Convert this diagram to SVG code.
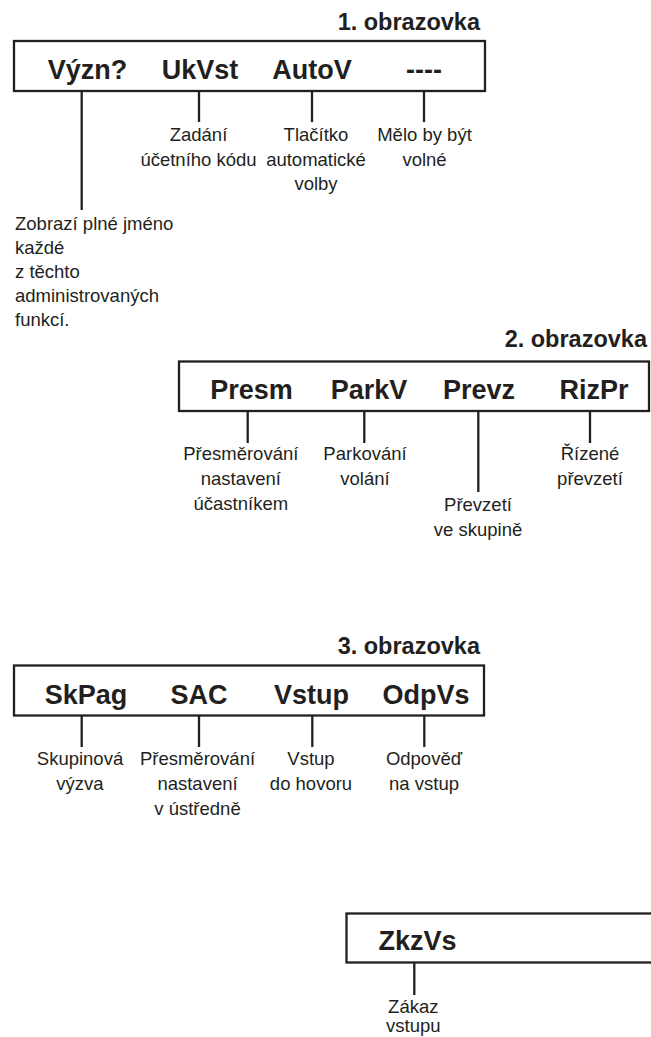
<svg xmlns="http://www.w3.org/2000/svg" width="651" height="1037" viewBox="0 0 651 1037">
<style>
.bg{fill:#fff}
.box{fill:#fff;stroke:#231f20;stroke-width:2.3}
.ln{stroke:#231f20;stroke-width:2.3;fill:none}
.ttl{font-family:"Liberation Sans",Arial,sans-serif;font-weight:bold;font-size:23.5px;fill:#231f20;text-anchor:end}
.key{font-family:"Liberation Sans",Arial,sans-serif;font-weight:bold;font-size:27px;fill:#231f20;text-anchor:middle}
.d{font-family:"Liberation Sans",Arial,sans-serif;font-size:18.5px;fill:#231f20;text-anchor:middle}
.dl{font-family:"Liberation Sans",Arial,sans-serif;font-size:18.5px;fill:#231f20}
</style>
<rect class="bg" x="0" y="0" width="651" height="1037"/>
<g id="screen1">
<text class="ttl" x="480" y="30">1. obrazovka</text>
<rect class="box" x="14" y="41" width="471" height="50"/>
<text class="key" x="87.5" y="78.5">Význ?</text>
<text class="key" x="200" y="78.5">UkVst</text>
<text class="key" x="312" y="78.5">AutoV</text>
<text class="key" x="424" y="78.5">----</text>
</g>
<g id="screen2">
<text class="ttl" x="647" y="347">2. obrazovka</text>
<rect class="box" x="179" y="361.5" width="470" height="49.5"/>
<text class="key" x="251.5" y="398.5">Presm</text>
<text class="key" x="369" y="398.5">ParkV</text>
<text class="key" x="479" y="398.5">Prevz</text>
<text class="key" x="594" y="398.5">RizPr</text>
</g>
<g id="screen3">
<text class="ttl" x="480" y="654">3. obrazovka</text>
<rect class="box" x="14" y="665.5" width="470" height="50"/>
<text class="key" x="86" y="703.5">SkPag</text>
<text class="key" x="199" y="703.5">SAC</text>
<text class="key" x="311.5" y="703.5">Vstup</text>
<text class="key" x="426" y="703.5">OdpVs</text>
</g>
<g id="screen4">
<rect class="box" x="346.5" y="913.5" width="330" height="49"/>
<text class="key" x="417.5" y="950">ZkzVs</text>
</g>
<g id="connectors">
<line class="ln" x1="81.7" y1="91" x2="81.7" y2="210"/>
<line class="ln" x1="199" y1="91" x2="199" y2="122"/>
<line class="ln" x1="312" y1="91" x2="312" y2="122"/>
<line class="ln" x1="424" y1="91" x2="424" y2="122"/>
<line class="ln" x1="247.7" y1="411" x2="247.7" y2="443"/>
<line class="ln" x1="364.3" y1="411" x2="364.3" y2="443"/>
<line class="ln" x1="478.3" y1="411" x2="478.3" y2="492"/>
<line class="ln" x1="590" y1="411" x2="590" y2="443"/>
<line class="ln" x1="81.7" y1="715.5" x2="81.7" y2="747"/>
<line class="ln" x1="199" y1="715.5" x2="199" y2="747"/>
<line class="ln" x1="312.3" y1="715.5" x2="312.3" y2="747"/>
<line class="ln" x1="424.3" y1="715.5" x2="424.3" y2="747"/>
<line class="ln" x1="414.3" y1="962.5" x2="414.3" y2="995"/>
</g>
<g id="labels1">
<text class="d" x="198.5" y="140.5">Zadání</text>
<text class="d" x="198.5" y="165.5">účetního kódu</text>
<text class="d" x="316" y="140.5">Tlačítko</text>
<text class="d" x="316" y="165.5">automatické</text>
<text class="d" x="316" y="190">volby</text>
<text class="d" x="424.5" y="140.5">Mělo by být</text>
<text class="d" x="424.5" y="165.5">volné</text>
<text class="dl" x="15" y="229.5">Zobrazí plné jméno</text>
<text class="dl" x="15" y="253.5">každé</text>
<text class="dl" x="15" y="277.5">z těchto</text>
<text class="dl" x="15" y="301.5">administrovaných</text>
<text class="dl" x="15" y="325.5">funkcí.</text>
</g>
<g id="labels2">
<text class="d" x="240.8" y="460">Přesměrování</text>
<text class="d" x="240.8" y="485">nastavení</text>
<text class="d" x="240.8" y="510">účastníkem</text>
<text class="d" x="365" y="460">Parkování</text>
<text class="d" x="365" y="485">volání</text>
<text class="d" x="478" y="510.5">Převzetí</text>
<text class="d" x="478" y="535.5">ve skupině</text>
<text class="d" x="590" y="460">Řízené</text>
<text class="d" x="590" y="485">převzetí</text>
</g>
<g id="labels3">
<text class="d" x="80" y="765">Skupinová</text>
<text class="d" x="80" y="790">výzva</text>
<text class="d" x="197.5" y="765">Přesměrování</text>
<text class="d" x="197.5" y="790">nastavení</text>
<text class="d" x="197.5" y="815">v ústředně</text>
<text class="d" x="311" y="765">Vstup</text>
<text class="d" x="311" y="790">do hovoru</text>
<text class="d" x="424" y="765">Odpověď</text>
<text class="d" x="424" y="790">na vstup</text>
</g>
<g id="labels4">
<text class="d" x="413.3" y="1012.5">Zákaz</text>
<text class="d" x="413.3" y="1032">vstupu</text>
</g>
</svg>
